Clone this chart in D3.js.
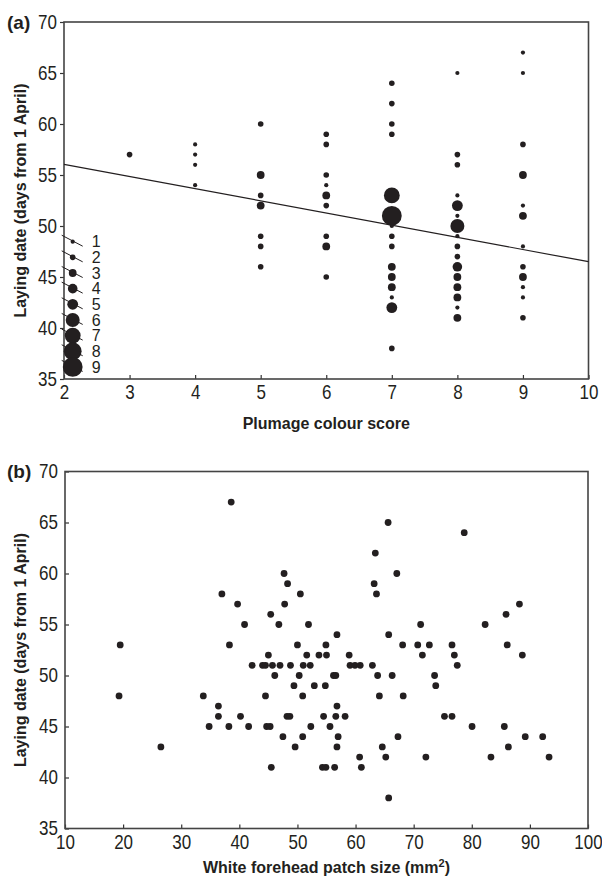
<!DOCTYPE html>
<html>
<head>
<meta charset="utf-8">
<script src="https://cdn.jsdelivr.net/npm/d3@7"></script>
<style>
  body { margin: 0; background: #fff; }
  text { font-family: "Liberation Sans", Arial, sans-serif; fill: #231f20; }
  .tick text { font-size: 20px; }
  .tick line { stroke: #333; stroke-width: 1.2; }
</style>
</head>
<body>
<svg id="chart" width="602" height="877"></svg>
<script>
// ---- panel (a): plumage colour score vs laying date, dot size = number of birds
var plumageScore = [3, 4, 4, 4, 4,
  5, 5, 5, 5, 5, 5, 5,
  6, 6, 6, 6, 6, 6, 6, 6, 6,
  7, 7, 7, 7, 7, 7, 7, 7, 7, 7, 7, 7, 7, 7, 7,
  8, 8, 8, 8, 8, 8, 8, 8, 8, 8, 8, 8, 8, 8, 8, 8,
  9, 9, 9, 9, 9, 9, 9, 9, 9, 9, 9, 9];
var plumageDate = [57, 58, 57, 56, 54,
  60, 55, 53, 52, 49, 48, 46,
  59, 58, 55, 54, 53, 52, 49, 48, 45,
  64, 62, 60, 59, 53, 51, 50, 49, 48, 46, 45, 44, 43, 42, 38,
  65, 57, 56, 53, 52, 51, 50, 49, 48, 47, 46, 45, 44, 43, 42, 41,
  67, 65, 58, 55, 52, 51, 48, 46, 45, 44, 43, 41];
var plumageCount = [2, 1, 1, 1, 1,
  2, 3, 2, 3, 2, 2, 2,
  2, 2, 2, 1, 3, 2, 2, 3, 2,
  2, 2, 2, 2, 7, 9, 1, 2, 2, 3, 3, 3, 1, 5, 2,
  1, 2, 2, 1, 5, 1, 6, 1, 2, 2, 4, 3, 3, 3, 1, 3,
  1, 1, 2, 3, 1, 3, 1, 2, 3, 1, 1, 2];
var regX = [2, 10];
var regY = [56.05, 46.5];
var legendCounts = [1, 2, 3, 4, 5, 6, 7, 8, 9];

// ---- panel (b): white forehead patch size vs laying date
var patchSize = [38.6, 65.6, 78.7, 63.4, 47.7, 67.1, 48.3, 63.2, 37.0, 50.5, 63.6,
  39.7, 47.8, 88.2, 45.4, 85.9, 40.9, 46.8, 51.9, 71.2, 82.3, 56.8, 65.7,
  19.5, 38.3, 50.0, 54.9, 68.1, 70.7, 72.7, 76.6, 86.1,
  45.0, 51.6, 53.7, 55.0, 58.9, 71.5, 77.0, 88.7,
  42.2, 44.0, 44.5, 45.7, 47.0, 48.8, 51.0, 52.2, 59.05, 59.9, 60.8, 62.9, 77.5,
  46.1, 50.3, 56.2, 56.6, 63.8, 66.3, 73.6,
  49.4, 52.9, 54.8, 73.8,
  19.3, 33.8, 44.5, 50.9, 64.1, 68.2,
  36.4, 56.8,
  36.4, 40.2, 48.2, 48.7, 54.5, 56.6, 58.2, 75.3, 76.6,
  34.8, 38.2, 41.6, 44.7, 45.3, 52.3, 55.6, 80.05, 85.6,
  47.5, 50.9, 57.0, 67.3, 89.2, 92.2,
  26.5, 49.6, 56.8, 64.6, 86.3,
  60.7, 65.2, 72.1, 83.3, 93.3,
  45.5, 54.3, 54.9, 56.4, 61.0,
  65.7];
var patchDate = [67, 65, 64, 62, 60, 60, 59, 59, 58, 58, 58,
  57, 57, 57, 56, 56, 55, 55, 55, 55, 55, 54, 54,
  53, 53, 53, 53, 53, 53, 53, 53, 53,
  52, 52, 52, 52, 52, 52, 52, 52,
  51, 51, 51, 51, 51, 51, 51, 51, 51, 51, 51, 51, 51,
  50, 50, 50, 50, 50, 50, 50,
  49, 49, 49, 49,
  48, 48, 48, 48, 48, 48,
  47, 47,
  46, 46, 46, 46, 46, 46, 46, 46, 46,
  45, 45, 45, 45, 45, 45, 45, 45, 45,
  44, 44, 44, 44, 44, 44,
  43, 43, 43, 43, 43,
  42, 42, 42, 42, 42,
  41, 41, 41, 41, 41,
  38];

var yTicks = [35, 40, 45, 50, 55, 60, 65, 70];
var xTicksA = [2, 3, 4, 5, 6, 7, 8, 9, 10];
var xTicksB = [10, 20, 30, 40, 50, 60, 70, 80, 90, 100];

var svg = d3.select("#chart");
var ink = "#231f20";
var squeeze = 0.85;   // tick digits in the original are tall and narrow

// dot radius for a count of birds
var radius = d3.scaleLinear()
    .domain([1, 2, 3, 4, 5, 6, 7, 8, 9])
    .range([2.1, 2.8, 3.9, 4.8, 5.4, 7, 7.9, 8.9, 9.9]);

function panel(box, xDomain, xTicks, yInward) {
  var x = d3.scaleLinear().domain(xDomain).range([box.left, box.right]);
  var y = d3.scaleLinear().domain([35, 70]).range([box.bottom, box.top]);

  var yAxis = d3.axisLeft(y).tickValues(yTicks);
  if (yInward) yAxis.tickSize(-4).tickPadding(7);
  else yAxis.tickSize(4).tickPadding(3);

  svg.append("g")
      .attr("transform", "translate(" + box.left + ",0)")
      .call(yAxis)
      .call(function(g) { g.select(".domain").remove(); })
    .selectAll(".tick text")
      .attr("x", -7 / squeeze)
      .attr("transform", "scale(" + squeeze + ",1)");

  svg.append("g")
      .attr("transform", "translate(0," + box.bottom + ")")
      .call(d3.axisBottom(x).tickValues(xTicks).tickSize(-4).tickPadding(6))
      .call(function(g) { g.select(".domain").remove(); })
    .selectAll(".tick text")
      .attr("transform", "scale(" + squeeze + ",1)");

  svg.append("rect")
      .attr("x", box.left)
      .attr("y", box.top)
      .attr("width", box.right - box.left)
      .attr("height", box.bottom - box.top)
      .attr("fill", "none")
      .attr("stroke", "#444")
      .attr("stroke-width", 1.6);

  svg.selectAll(".tick text").attr("fill", ink);
  return {x: x, y: y};
}

// ---------- panel (a)
var boxA = {left: 64, right: 588.5, top: 22, bottom: 379};
var a = panel(boxA, [2, 10], xTicksA, false);

svg.append("line")
    .attr("x1", a.x(regX[0])).attr("y1", a.y(regY[0]))
    .attr("x2", a.x(regX[1])).attr("y2", a.y(regY[1]))
    .attr("stroke", ink)
    .attr("stroke-width", 1.2);

var dotsA = plumageScore.map(function(s, i) {
  return {s: s, d: plumageDate[i], n: plumageCount[i]};
});

svg.append("g").selectAll("circle")
    .data(dotsA)
  .enter().append("circle")
    .attr("cx", function(d) { return a.x(d.s); })
    .attr("cy", function(d) { return a.y(d.d); })
    .attr("r", function(d) { return radius(d.n); })
    .attr("fill", ink);

// size legend down the left edge
var legend = svg.append("g").selectAll("g")
    .data(legendCounts)
  .enter().append("g")
    .attr("transform", function(d, i) { return "translate(72.7," + (241.7 + i * 15.65) + ")"; });

legend.append("line")
    .attr("x1", -11).attr("y1", -6.5)
    .attr("x2", 10).attr("y2", 4.5)
    .attr("stroke", ink)
    .attr("stroke-width", 1);

legend.append("circle")
    .attr("r", function(d) { return radius(d); })
    .attr("fill", ink);

legend.append("text")
    .attr("x", 19)
    .attr("dy", "0.36em")
    .style("font-size", "16px")
    .text(function(d) { return d; });

svg.append("text")
    .attr("x", 7).attr("y", 29)
    .style("font-size", "19px").style("font-weight", "bold")
    .text("(a)");

svg.append("text")
    .attr("x", (boxA.left + boxA.right) / 2).attr("y", 429)
    .attr("text-anchor", "middle")
    .style("font-size", "16px").style("font-weight", "bold")
    .text("Plumage colour score");

svg.append("text")
    .attr("transform", "translate(26," + (boxA.top + boxA.bottom) / 2 + ") rotate(-90)")
    .attr("text-anchor", "middle")
    .style("font-size", "16px").style("font-weight", "bold")
    .text("Laying date (days from 1 April)");

// ---------- panel (b)
var boxB = {left: 65, right: 588, top: 471.5, bottom: 828.5};
var b = panel(boxB, [10, 100], xTicksB, true);

svg.append("g").selectAll("circle")
    .data(patchSize)
  .enter().append("circle")
    .attr("cx", function(d) { return b.x(d); })
    .attr("cy", function(d, i) { return b.y(patchDate[i]); })
    .attr("r", 3.4)
    .attr("fill", ink);

svg.append("text")
    .attr("x", 7).attr("y", 478)
    .style("font-size", "19px").style("font-weight", "bold")
    .text("(b)");

var xt = svg.append("text")
    .attr("x", (boxB.left + boxB.right) / 2).attr("y", 873)
    .attr("text-anchor", "middle")
    .style("font-size", "16px").style("font-weight", "bold");
xt.append("tspan").text("White forehead patch size (mm");
xt.append("tspan").attr("dy", -6).style("font-size", "11px").text("2");
xt.append("tspan").attr("dy", 6).text(")");

svg.append("text")
    .attr("transform", "translate(26," + (boxB.top + boxB.bottom) / 2 + ") rotate(-90)")
    .attr("text-anchor", "middle")
    .style("font-size", "16px").style("font-weight", "bold")
    .text("Laying date (days from 1 April)");
</script>
</body>
</html>
